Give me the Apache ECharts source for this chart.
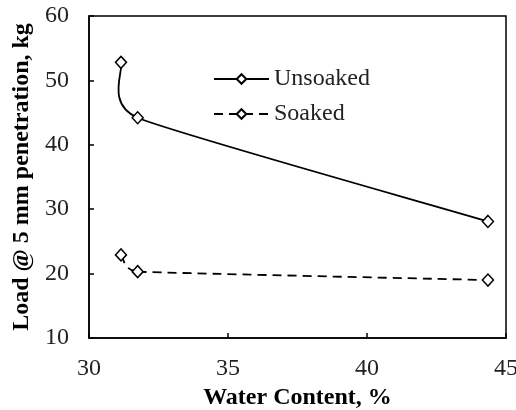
<!DOCTYPE html>
<html>
<head>
<meta charset="utf-8">
<script src="https://cdn.jsdelivr.net/npm/echarts@6/dist/echarts.min.js"></script>
<style>
html,body{margin:0;padding:0;background:#fff;}
#chart{width:516px;height:410px;}
</style>
</head>
<body>
<div id="chart"></div>
<script>
var waterContent = [31.15, 31.75, 44.35];
var unsoaked = [52.8, 44.2, 28.1];
var soaked = [22.9, 20.3, 19.0];
var seriesNames = ['Unsoaked', 'Soaked'];
var xTitle = 'Water Content, %';
var yTitle = 'Load @ 5 mm penetration, kg';

function pairs(xs, ys){ return xs.map(function(x,i){ return [x, ys[i]]; }); }

// Excel-like smoothed curve drawn through the chart's own coordinate system
function smoothRenderer(xs, ys, lineStyle){
  return function(params, api){
    if (params.dataIndex !== 0) return null;
    var pts = pairs(xs, ys).map(function(p){ return api.coord(p); });
    var n = pts.length, children = [];
    function dist(a,b){ return Math.hypot(b[0]-a[0], b[1]-a[1]); }
    var ctrlOut = [], ctrlIn = [];
    for (var i = 0; i < n; i++){
      if (i === 0 || i === n-1){
        var nb = pts[i === 0 ? 1 : n-2];
        var v = [(nb[0]-pts[i][0])/6, (nb[1]-pts[i][1])/6];
        if (i === 0){ ctrlOut[i] = [pts[i][0]+v[0], pts[i][1]+v[1]]; }
        else { ctrlIn[i] = [pts[i][0]+v[0], pts[i][1]+v[1]]; }
      } else {
        var T = [pts[i+1][0]-pts[i-1][0], pts[i+1][1]-pts[i-1][1]];
        var tl = Math.hypot(T[0], T[1]) || 1;
        var L = Math.min(dist(pts[i-1],pts[i]), dist(pts[i],pts[i+1])) * 0.6;
        var u = [T[0]/tl*L, T[1]/tl*L];
        ctrlIn[i] = [pts[i][0]-u[0], pts[i][1]-u[1]];
        ctrlOut[i] = [pts[i][0]+u[0], pts[i][1]+u[1]];
      }
    }
    for (var s = 0; s < n-1; s++){
      children.push({
        type:'bezierCurve',
        shape:{x1:pts[s][0], y1:pts[s][1], x2:pts[s+1][0], y2:pts[s+1][1],
               cpx1:ctrlOut[s][0], cpy1:ctrlOut[s][1], cpx2:ctrlIn[s+1][0], cpy2:ctrlIn[s+1][1]},
        style:{stroke:'#000', lineWidth:lineStyle.width, lineDash:lineStyle.dash, fill:null}
      });
    }
    return {type:'group', children:children};
  };
}

var FONT = '"Liberation Serif", "Times New Roman", serif';
var chart = echarts.init(document.getElementById('chart'), null, {renderer:'canvas'});
chart.setOption({
  animation:false,
  backgroundColor:'#fff',
  grid:{left:89,right:10,top:16,bottom:72,outerBoundsMode:'none',containLabel:false,show:true,borderColor:'#000',borderWidth:1.5,backgroundColor:'transparent'},
  legend:{
    orient:'vertical', left:213, top:67, padding:0, itemWidth:55, itemHeight:12, itemGap:11,
    textStyle:{fontFamily:FONT,fontSize:24,color:'#222'},
    data:[
      {name:seriesNames[0], lineStyle:{opacity:1}},
      {name:seriesNames[1], lineStyle:{opacity:1}}
    ]
  },
  xAxis:{
    type:'value', min:30, max:45, interval:5,
    name:xTitle, nameLocation:'middle', nameGap:46,
    nameTextStyle:{fontFamily:FONT,fontSize:24,fontWeight:'bold',color:'#000'},
    axisLine:{show:true,lineStyle:{color:'#000',width:1.5}},
    axisTick:{show:true,inside:true,length:5,lineStyle:{color:'#000',width:1.5}},
    axisLabel:{fontFamily:FONT,fontSize:24,color:'#222',margin:19},
    splitLine:{show:false}
  },
  yAxis:{
    type:'value', min:10, max:60, interval:10,
    name:yTitle, nameLocation:'middle', nameGap:52,
    nameTextStyle:{fontFamily:FONT,fontSize:24,fontWeight:'bold',color:'#000'},
    axisLine:{show:true,lineStyle:{color:'#000',width:1.5}},
    axisTick:{show:true,inside:true,length:5,lineStyle:{color:'#000',width:1.5}},
    axisLabel:{fontFamily:FONT,fontSize:24,color:'#222',margin:20},
    splitLine:{show:false}
  },
  series:[
    {
      name:'curve-unsoaked', type:'custom', data:pairs(waterContent, unsoaked), z:2,
      renderItem:smoothRenderer(waterContent, unsoaked, {width:1.8, dash:null})
    },
    {
      name:'curve-soaked', type:'custom', data:pairs(waterContent, soaked), z:2,
      renderItem:smoothRenderer(waterContent, soaked, {width:1.8, dash:[9,6]})
    },
    {
      name:seriesNames[0], type:'line', data:pairs(waterContent, unsoaked), z:3,
      symbol:'diamond', symbolSize:[11,12],
      itemStyle:{color:'#fff',borderColor:'#000',borderWidth:1.5},
      lineStyle:{color:'#000',width:1.8,type:'solid',opacity:0}
    },
    {
      name:seriesNames[1], type:'line', data:pairs(waterContent, soaked), z:3,
      symbol:'diamond', symbolSize:[11,12],
      itemStyle:{color:'#fff',borderColor:'#000',borderWidth:1.5},
      lineStyle:{color:'#000',width:1.8,type:[9,6],opacity:0}
    }
  ]
});
</script>
</body>
</html>
